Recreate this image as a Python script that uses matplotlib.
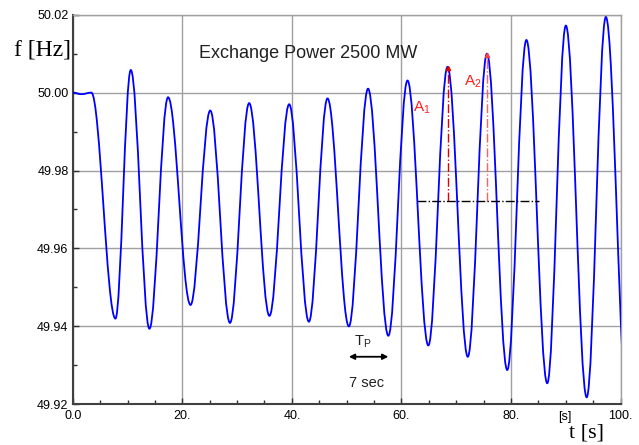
import numpy as np
import matplotlib
matplotlib.use("Agg")
import matplotlib.pyplot as plt
from matplotlib.path import Path
from matplotlib.patches import PathPatch
from matplotlib.ticker import MultipleLocator

# frequency trace (t [s], f [Hz])
start_t = [0.0, 1.6, 3.4]
start_f = [50.0000, 49.9996, 50.0000]
trough_t = [7.8, 14.0, 21.5, 28.7, 35.9, 43.1, 50.4, 57.6, 64.9, 72.1, 79.3, 86.6, 93.8, 101.3]
trough_f = [49.9420, 49.9394, 49.9455, 49.9409, 49.9427, 49.9412, 49.9400,
            49.9376, 49.9351, 49.9322, 49.9288, 49.9254, 49.9218, 49.9180]
peak_t = [10.6, 17.4, 25.1, 32.2, 39.5, 46.5, 53.9, 61.1, 68.4, 75.6, 82.8, 90.0, 97.3]
peak_f = [50.0058, 49.9988, 49.9954, 49.9973, 49.9970, 49.9985, 50.0010,
          50.0031, 50.0066, 50.0100, 50.0135, 50.0172, 50.0194]

x_ticks = [0, 20, 40, 60, 80, 100]
x_labels = ["0.0", "20.", "40.", "60.", "80.", "100."]
y_ticks = [49.92, 49.94, 49.96, 49.98, 50.00, 50.02]
y_labels = ["49.92", "49.94", "49.96", "49.98", "50.00", "50.02"]

a1_idx, a2_idx = 8, 9      # peaks marked A1 and A2
base_f = 49.9721           # dash-dot reference level
base_t = (62.9, 85.1)
tp_t = (50.4, 57.6)        # T_p arrow ends
tp_f = 49.9322

SANS = ["Liberation Sans", "DejaVu Sans"]
SERIF = ["Liberation Serif", "DejaVu Serif"]


def turning_points():
    """Merge the start and the alternating troughs / peaks into one list."""
    pts = list(zip(start_t, start_f))
    for i in range(len(trough_t)):
        pts.append((trough_t[i], trough_f[i]))
        if i < len(peak_t):
            pts.append((peak_t[i], peak_f[i]))
    return pts


def smooth_path(pts, k=0.364):
    """Cubic bezier through turning points with flat tangents (sine-like)."""
    verts = [pts[0]]
    codes = [Path.MOVETO]
    for (t0, f0), (t1, f1) in zip(pts[:-1], pts[1:]):
        dt = t1 - t0
        verts += [(t0 + k * dt, f0), (t1 - k * dt, f1), (t1, f1)]
        codes += [Path.CURVE4] * 3
    return Path(verts, codes)


fig = plt.figure(figsize=(6.39, 4.45), dpi=100)
ax = fig.add_axes([0.1138, 0.0915, 0.8575, 0.8755])

ax.add_patch(PathPatch(smooth_path(turning_points()), fill=False,
                       edgecolor="#0000ff", lw=1.3, zorder=3))

ax.set_xlim(0, 100)
ax.set_ylim(49.92, 50.02)

ax.set_xticks(x_ticks)
ax.set_xticklabels(x_labels, family=SANS, fontsize=9)
ax.set_yticks(y_ticks)
ax.set_yticklabels(y_labels, family=SANS, fontsize=9)
ax.xaxis.set_minor_locator(MultipleLocator(5))
ax.yaxis.set_minor_locator(MultipleLocator(0.01))
ax.tick_params(which="major", direction="in", length=4, width=1, pad=3, color="#303030")
ax.tick_params(axis="x", which="major", pad=4)
ax.tick_params(which="minor", direction="in", length=3, width=1, color="#303030")

ax.grid(True, which="major", color="#a0a0a0", lw=1)
for side in ("top", "right"):
    ax.spines[side].set_color("#a0a0a0")
    ax.spines[side].set_linewidth(1)
for side in ("left", "bottom"):
    ax.spines[side].set_color("#404040")
    ax.spines[side].set_linewidth(1.5)

# A1 / A2 amplitude markers
ax.plot([peak_t[a1_idx], peak_t[a1_idx]], [base_f, peak_f[a1_idx]],
        color="#e00000", lw=1, ls="-.", zorder=4)
ax.plot([peak_t[a2_idx], peak_t[a2_idx]], [base_f, peak_f[a2_idx]],
        color="#ff6060", lw=1, ls="-.", zorder=4)
ax.plot(peak_t[a1_idx], peak_f[a1_idx] - 0.0003, marker="^", ms=3, color="#e00000", zorder=5)
ax.plot(peak_t[a2_idx], peak_f[a2_idx] - 0.0003, marker="^", ms=3, color="#ff4040", zorder=5)
ax.plot(base_t, [base_f, base_f], color="black", lw=1, ls="-.", zorder=4)
ax.text(63.7, 49.9961, r"A$_\mathregular{1}$", color="#ff2020", family=SANS,
        fontsize=11, ha="center", va="center")
ax.text(73.0, 50.0028, r"A$_\mathregular{2}$", color="#ff2020", family=SANS,
        fontsize=11, ha="center", va="center")

# period arrow
ax.annotate("", xy=(tp_t[0], tp_f), xytext=(tp_t[1], tp_f),
            arrowprops=dict(arrowstyle="<|-|>", color="black", lw=1.3,
                            mutation_scale=8, shrinkA=0, shrinkB=0))
ax.text(53.0, 49.9362, r"T$_\mathregular{P}$", family=SANS, fontsize=10.5,
        ha="center", va="center", color="#202020")
ax.text(53.7, 49.9254, "7 sec", family=SANS, fontsize=10.5,
        ha="center", va="center", color="#202020")

ax.text(0.43, 0.90, "Exchange Power 2500 MW", transform=ax.transAxes,
        family=SANS, fontsize=13, ha="center", va="center", color="#202020")

fig.text(0.067, 0.888, "f [Hz]", family=SERIF, fontsize=17, ha="center", va="center")
fig.text(0.918, 0.028, "t [s]", family=SERIF, fontsize=16, ha="center", va="center")
fig.text(0.884, 0.064, "[s]", family=SANS, fontsize=9, ha="center", va="center")

fig.savefig("out.png", dpi=100)
